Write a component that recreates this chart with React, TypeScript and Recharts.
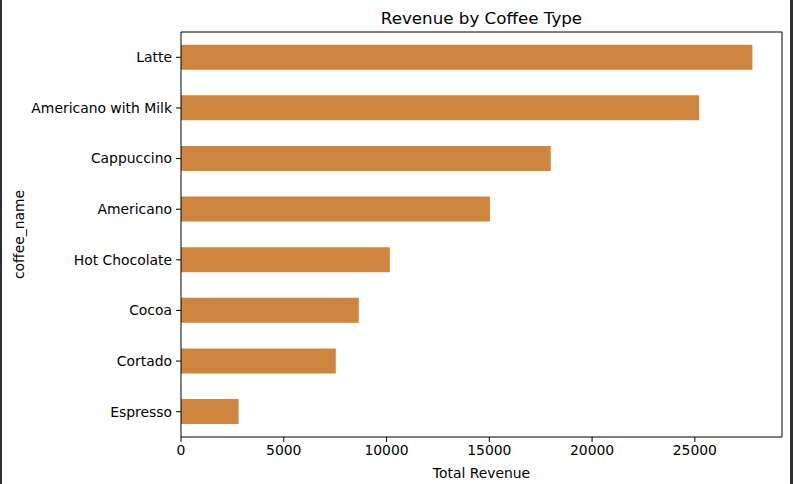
import { BarChart, Bar, XAxis, YAxis } from "recharts";

// values
const coffeeNames = [
    "Latte",
    "Americano with Milk",
    "Cappuccino",
    "Americano",
    "Hot Chocolate",
    "Cocoa",
    "Cortado",
    "Espresso",
];
const revenue = [27800, 25210, 17990, 15030, 10160, 8650, 7530, 2800];
const revenueTicks = [0, 5000, 10000, 15000, 20000, 25000];

const BAR_COLOR = "#CD853F";
const FONT = "'DejaVu Sans', sans-serif";

const chartData = coffeeNames.map((name, i) => ({ name, total: revenue[i] }));

export default function App() {
    return (
        <div
            style={{
                position: "fixed",
                top: 0,
                left: 0,
                width: 793,
                height: 484,
                boxSizing: "border-box",
                borderLeft: "2px solid #2e2e2e",
                borderRight: "3px solid #2e2e2e",
                background: "#fff",
                fontFamily: FONT,
            }}
        >
            {/* title */}
            <div
                style={{
                    position: "absolute",
                    top: 8,
                    left: 179,
                    width: 601,
                    textAlign: "center",
                    fontSize: 16.7,
                    lineHeight: "20px",
                    color: "#000",
                }}
            >
                Revenue by Coffee Type
            </div>
            <BarChart
                width={788}
                height={484}
                data={chartData}
                layout="vertical"
                margin={{ top: 31, right: 7, left: 0, bottom: 0 }}
                barCategoryGap="25%"
            >
                <XAxis
                    type="number"
                    domain={[0, 29240]}
                    ticks={revenueTicks}
                    height={47}
                    tickSize={5}
                    tickMargin={3}
                    stroke="#000"
                    tick={{ fill: "#000", fontSize: 13.9, fontFamily: FONT }}
                    label={{
                        value: "Total Revenue",
                        position: "insideBottom",
                        offset: 6,
                        fill: "#000",
                        fontSize: 13.9,
                        fontFamily: FONT,
                    }}
                />
                <XAxis
                    xAxisId="top"
                    orientation="top"
                    type="number"
                    domain={[0, 29240]}
                    height={1}
                    tick={false}
                    tickLine={false}
                    stroke="#000"
                />
                <YAxis
                    type="category"
                    dataKey="name"
                    width={179}
                    tickSize={5}
                    tickMargin={4}
                    stroke="#000"
                    tick={{ fill: "#000", fontSize: 13.9, fontFamily: FONT }}
                    label={{
                        value: "coffee_name",
                        angle: -90,
                        position: "insideLeft",
                        offset: 17,
                        fill: "#000",
                        fontSize: 13.9,
                        fontFamily: FONT,
                        style: { textAnchor: "middle" },
                    }}
                />
                <YAxis
                    yAxisId="right"
                    orientation="right"
                    type="category"
                    dataKey="name"
                    width={1}
                    tick={false}
                    tickLine={false}
                    stroke="#000"
                />
                <Bar dataKey="total" fill={BAR_COLOR} isAnimationActive={false} />
            </BarChart>
        </div>
    );
}
